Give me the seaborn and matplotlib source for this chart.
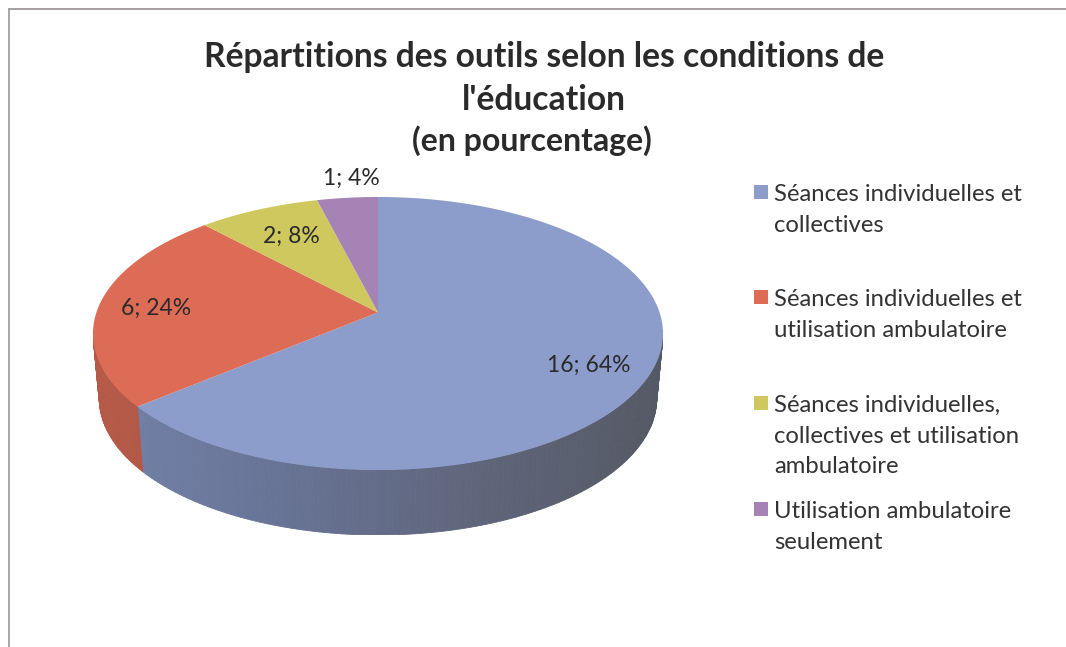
import numpy as np
import matplotlib
matplotlib.use("Agg")
import matplotlib.pyplot as plt
from matplotlib.patches import Rectangle
import seaborn as sns

categories = ["Séances individuelles et\ncollectives",
              "Séances individuelles et\nutilisation ambulatoire",
              "Séances individuelles,\ncollectives et utilisation\nambulatoire",
              "Utilisation ambulatoire\nseulement"]
values = [16, 6, 2, 1]
slice_labels = ["16; 64%", "6; 24%", "2; 8%", "1; 4%"]
colors = ["#8C9CCB", "#DD6C57", "#CFC85E", "#A583B5"]

sns.set_theme(style="white")
plt.rcParams["font.family"] = ["Lato", "DejaVu Sans"]

W, H = 1066, 647
fig = plt.figure(figsize=(W / 100, H / 100), dpi=100, facecolor="white")

# pie face spans x 93..663, y 197..470 ; extrusion 65 px
cx0, cx1, top, bot, depth_px = 93, 663, 197, 470, 65
ry = (bot - top) / 2
depth = depth_px / ry
ax = fig.add_axes([cx0 / W, (H - bot - depth_px) / H, (cx1 - cx0) / W, (bot + depth_px - top) / H])

wedges, _ = ax.pie(values, colors=colors, startangle=90, counterclock=False, radius=1)
ax.set_aspect("auto")
ax.set_xlim(-1, 1)
ax.set_ylim(-1 - depth, 1)

a = 0.154  # perspective: apex sits above the ellipse centre
def project(theta_deg):
    t = np.radians(theta_deg)
    x, y = np.cos(t), np.sin(t)
    d = 1 + a * y
    return x * np.sqrt(1 - a * a) / d, (y + a) / d

for w, col in zip(wedges, colors):
    t1, t2 = w.theta1, w.theta2
    base = np.array(matplotlib.colors.to_rgb(col))
    # side wall, shaded along x
    ths = np.arange(t1, t2 + 1.0, 1.0)
    ths = np.append(ths[ths < t2], t2)
    for u, v in zip(ths[:-1], ths[1:]):
        xu, yu = project(u)
        xv, yv = project(v)
        if max(yu, yv) > 0.03:
            continue
        xm = (xu + xv) / 2
        shade = base * (0.69 - 0.14 * xm)
        mix = np.clip(0.4 * (xm + 0.4), 0, 0.5)
        shade = shade * (1 - mix) + shade.mean() * mix
        k = 0.978
        ax.fill([xu, xv, xv * k, xu * k], [yu, yv, yv - depth, yu - depth],
                color=shade, lw=0.6, zorder=2)
    # top face
    tt = np.linspace(t1, t2, 200)
    px, py = project(tt)
    ax.fill(np.r_[0, px], np.r_[a, py], color=col, lw=0, zorder=3)
    w.remove()

# overlay in pixel coordinates for text
ov = fig.add_axes([0, 0, 1, 1], zorder=5)
ov.set_xlim(0, W)
ov.set_ylim(H, 0)
ov.axis("off")
ov.patch.set_alpha(0)

ov.plot([9, 9], [647, 9], color="#9a9a9a", lw=1.2, clip_on=False)
ov.plot([9, 1066], [9, 9], color="#9a9090", lw=1.2, clip_on=False)

tc = "#2a2a2a"
ov.text(544, 57, "Répartitions des outils selon les conditions de", ha="center", va="center",
        fontsize=24.2, fontweight="bold", color=tc)
ov.text(544, 100, "l'éducation", ha="center", va="center", fontsize=24.2, fontweight="bold", color=tc)
ov.text(532, 141, "(en pourcentage)", ha="center", va="center", fontsize=23, fontweight="bold", color=tc)

label_pos = [(589, 365), (156, 308), (291, 236), (351, 178)]
for (x, y), s in zip(label_pos, slice_labels):
    ov.text(x, y, s, ha="center", va="center", fontsize=16.5, color=tc)

legend_y = [192, 297, 403, 509]
for y, lab, col in zip(legend_y, categories, colors):
    ov.add_patch(Rectangle((754, y - 7), 14, 14, color=col, lw=0))
    ov.text(774, y - 8, lab, ha="left", va="top", fontsize=17.2, color="#333333", linespacing=1.57)

fig.savefig("out.png", dpi=100)
